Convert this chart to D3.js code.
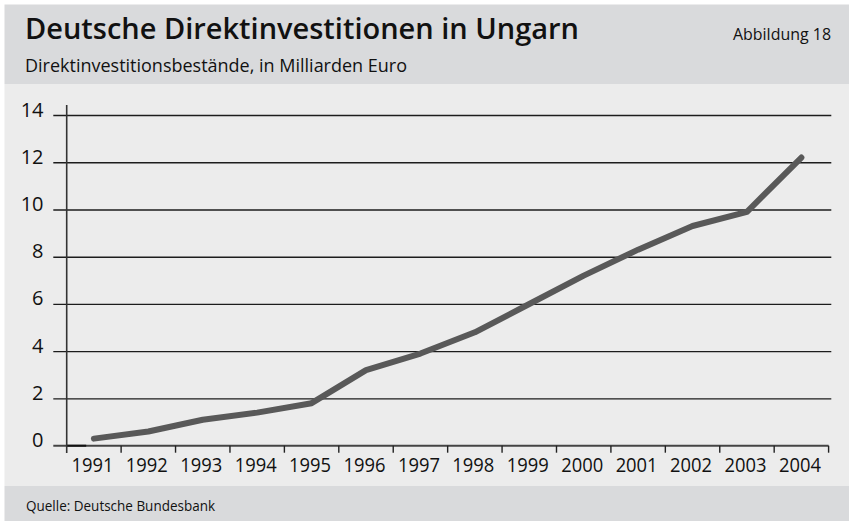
<!DOCTYPE html>
<html>
<head>
<meta charset="utf-8">
<script src="https://cdn.jsdelivr.net/npm/d3@7"></script>
<style>
  html, body { margin: 0; padding: 0; background: #ffffff; }
  svg { display: block; font-family: "Open Sans", "DejaVu Sans", sans-serif; }
</style>
</head>
<body>
<svg id="chart" width="849" height="521"></svg>
<script>
const years = ["1991","1992","1993","1994","1995","1996","1997","1998","1999","2000","2001","2002","2003","2004"];
const values = [0.3, 0.6, 1.1, 1.4, 1.8, 3.2, 3.9, 4.8, 6.0, 7.2, 8.3, 9.3, 9.9, 12.2];
const yTicks = [0, 2, 4, 6, 8, 10, 12, 14];
const titleText = "Deutsche Direktinvestitionen in Ungarn";
const subtitleText = "Direktinvestitionsbestände, in Milliarden Euro";
const figureText = "Abbildung 18";
const sourceText = "Quelle: Deutsche Bundesbank";

const svg = d3.select("#chart");
const W = 849, H = 521;

// backgrounds
svg.append("rect").attr("x", 0).attr("y", 0).attr("width", W).attr("height", H).attr("fill", "#ffffff");
svg.append("rect").attr("x", 4.5).attr("y", 4.5).attr("width", W - 4.5).attr("height", 79.5).attr("fill", "#d9dadc");
svg.append("rect").attr("x", 4.5).attr("y", 84).attr("width", W - 4.5).attr("height", 402).attr("fill", "#ececec");
svg.append("rect").attr("x", 4.5).attr("y", 486).attr("width", W - 4.5).attr("height", H - 486).attr("fill", "#d9dadc");

// header texts
svg.append("text").attr("x", 25).attr("y", 38.5)
  .attr("font-size", 28).attr("font-weight", 600).attr("fill", "#111")
  .attr("textLength", 554).attr("lengthAdjust", "spacingAndGlyphs")
  .text(titleText);
svg.append("text").attr("x", 25).attr("y", 72)
  .attr("font-size", 17.5).attr("fill", "#111")
  .attr("textLength", 382).attr("lengthAdjust", "spacingAndGlyphs")
  .text(subtitleText);
svg.append("text").attr("x", 733).attr("y", 40)
  .attr("font-size", 16).attr("fill", "#111")
  .attr("textLength", 98).attr("lengthAdjust", "spacingAndGlyphs")
  .text(figureText);
svg.append("text").attr("x", 26).attr("y", 510.5)
  .attr("font-size", 14.5).attr("fill", "#111")
  .attr("textLength", 189).attr("lengthAdjust", "spacingAndGlyphs")
  .text(sourceText);

// scales
const x = d3.scaleBand().domain(years).range([66.7, 828.6]).padding(0);
const y = d3.scaleLinear().domain([0, 14]).range([445.7, 115]);

const gridLeft = 53.3, gridRight = 831.3;

// y gridlines via axis
const yAxis = d3.axisLeft(y).tickValues(yTicks.filter(v => v > 0)).tickSize(gridRight - gridLeft).tickFormat(d3.format("d"));
const gy = svg.append("g").attr("transform", `translate(${gridRight},0)`).call(yAxis);
gy.select(".domain").remove();
gy.selectAll(".tick line").attr("stroke", "#1c1c1c").attr("stroke-width", 1.3);
gy.selectAll(".tick text").remove();

// y labels
svg.append("g").selectAll("text").data(yTicks).join("text")
  .attr("x", 43.5).attr("y", d => y(d) + 1.5)
  .attr("text-anchor", "end").attr("font-size", 20).attr("fill", "#111")
  .text(d => d);

// zero line (x axis)
svg.append("line").attr("x1", gridLeft).attr("x2", x.range()[1])
  .attr("y1", y(0)).attr("y2", y(0)).attr("stroke", "#444").attr("stroke-width", 2);
svg.append("line").attr("x1", x.range()[0]).attr("x2", x.range()[0] + 19.5)
  .attr("y1", y(0)).attr("y2", y(0)).attr("stroke", "#111").attr("stroke-width", 2);

// x boundary ticks
const boundaries = years.slice(1).map(d => x(d)).concat([x.range()[1]]);
svg.append("g").selectAll("line").data(boundaries).join("line")
  .attr("x1", d => d).attr("x2", d => d)
  .attr("y1", y(0)).attr("y2", y(0) + 7)
  .attr("stroke", "#222").attr("stroke-width", 1.4);

// y axis line
svg.append("line").attr("x1", x.range()[0]).attr("x2", x.range()[0])
  .attr("y1", 105).attr("y2", 453).attr("stroke", "#333").attr("stroke-width", 1.6);

// x labels
const xAxis = d3.axisBottom(x).tickSize(0).tickPadding(0);
const gx = svg.append("g").attr("transform", `translate(-1.5,0)`).call(xAxis);
gx.select(".domain").remove();
gx.selectAll(".tick text")
  .attr("y", 471.5).attr("dy", null)
  .attr("font-size", 20).attr("font-family", "\"Open Sans\", sans-serif").attr("fill", "#111")
  .attr("textLength", 42).attr("lengthAdjust", "spacingAndGlyphs");

// data line
const line = d3.line()
  .x((d, i) => x(years[i]) + x.bandwidth() / 2)
  .y(d => y(d));
svg.append("path").datum(values)
  .attr("d", line)
  .attr("fill", "none")
  .attr("stroke", "#595959")
  .attr("stroke-width", 6)
  .attr("stroke-linejoin", "round")
  .attr("stroke-linecap", "round");
</script>
</body>
</html>
